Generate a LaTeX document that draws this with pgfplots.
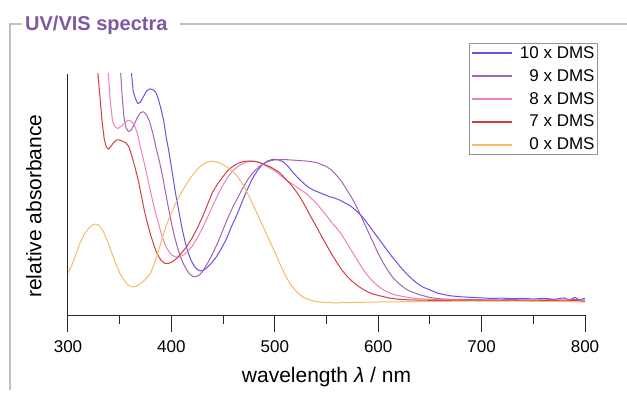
\documentclass[border=0pt]{standalone}
\usepackage{fontspec}
\setmainfont{Liberation Sans}
\usepackage{pgfplots}
\pgfplotsset{compat=1.18}
\definecolor{c10}{RGB}{110,80,225}
\definecolor{c9}{RGB}{163,100,183}
\definecolor{c8}{RGB}{236,130,185}
\definecolor{c7}{RGB}{205,65,65}
\definecolor{c0}{RGB}{246,187,102}
\definecolor{titlec}{RGB}{125,90,160}
\definecolor{framec}{RGB}{192,192,192}
\definecolor{axc}{RGB}{40,40,40}
\begin{document}
\begin{tikzpicture}
\path[use as bounding box] (0,0) rectangle (627pt,397pt);
\draw[framec, line width=1.5pt] (10pt,7pt) -- (10pt,373pt) -- (22pt,373pt);
\draw[framec, line width=1.5pt] (180pt,373pt) -- (627pt,373pt);
\node[anchor=base west, inner sep=0pt, text=titlec, font=\fontsize{20}{20}\selectfont\bfseries] at (25pt,366.3pt) {UV/VIS spectra};
\begin{axis}[
  at={(68pt,82pt)}, anchor=south west,
  scale only axis, width=517pt, height=241pt,
  xmin=300, xmax=800, ymin=-0.1, ymax=1.6214,
  axis x line*=bottom, axis y line*=left,
  axis line style={-, axc, line width=1pt},
  xtick={300,400,...,800}, minor x tick num=1,
  ytick=\empty,
  tick align=outside,
  major tick length=17pt, minor tick length=9pt,
  every tick/.style={axc, line width=1pt},
  xticklabel style={font=\fontsize{17}{17}\selectfont, /pgf/number format/assume math mode=true, yshift=-5pt},
  xlabel={wavelength \textit{λ} / nm},
  ylabel={relative absorbance},
  xlabel style={font=\fontsize{21}{21}\selectfont, at={(axis description cs:0.5,-0.2573)}, anchor=center},
  ylabel style={font=\fontsize{21}{21}\selectfont, at={(axis description cs:-0.0658,0.452)}, anchor=center},
  legend style={at={(axis description cs:1.0251,1.1286)}, anchor=north east,
    draw={rgb,255:red,150;green,150;blue,150}, line width=0.8pt, fill=white,
    font=\fontsize{17}{17}\selectfont,
    inner xsep=2pt, inner ysep=2pt, row sep=7.5pt,
    /tikz/every odd column/.append style={column sep=6pt},
    nodes={inner sep=1pt}},
  legend cell align=right,
  legend image code/.code={\draw[#1, line width=2pt] (0pt,0pt) -- (40pt,0pt);},
  every axis plot/.append style={line width=1pt, line join=round},
]
\addplot[c10] coordinates {
(300,4) (340,3) (355,2.3) (359,1.9) (361.5,1.62) (363,1.50) (365,1.45) (367.5,1.41)
(370,1.42) (373,1.46) (376,1.50) (379,1.515) (382,1.51) (385,1.49) (387.5,1.44)
(390,1.37) (392.5,1.29) (395,1.17) (398,1.05) (401,0.91) (404,0.77) (407,0.65)
(410,0.53) (413,0.43) (416,0.35) (419,0.29) (422,0.25) (425,0.225) (428,0.215)
(431,0.22) (434,0.235) (438,0.265) (443,0.31) (448,0.37) (453,0.44) (458,0.53)
(463,0.61) (468,0.70) (473,0.79) (478,0.87) (483,0.93) (488,0.975) (493,1.0)
(498,1.012) (503,1.01) (508,0.995) (513,0.96) (518,0.915) (523,0.875) (528,0.84)
(533,0.81) (538,0.79) (543,0.775) (548,0.76) (553,0.745) (558,0.735) (563,0.72)
(568,0.70) (573,0.68) (578,0.65) (583,0.615) (588,0.57) (593,0.52) (598,0.47)
(603,0.42) (608,0.37) (613,0.32) (618,0.275) (623,0.23) (628,0.19) (633,0.155)
(638,0.125) (643,0.10) (648,0.085) (653,0.07) (658,0.055) (663,0.047) (670,0.037)
(680,0.03) (690,0.026) (700,0.022) (710,0.018) (720,0.021) (730,0.016) (740,0.019)
(750,0.014) (760,0.02) (770,0.012) (780,0.022) (785,0.006) (790,0.026) (795,0.008) (800,0.02)
};
\addlegendentry{10 x DMS}
\addplot[c9] coordinates {
(300,4) (330,3) (345,2.2) (349,1.8) (351,1.62) (352.5,1.45) (354,1.32) (356,1.24)
(358.5,1.21) (361,1.22) (364,1.26) (367,1.31) (370,1.345) (373,1.352) (376,1.33)
(379,1.28) (382,1.20) (385,1.10) (388,1.01) (391,0.91) (394,0.79) (397,0.67)
(400,0.56) (403,0.46) (406,0.38) (409,0.31) (412,0.26) (415,0.22) (418,0.19)
(421,0.175) (424,0.175) (427,0.185) (430,0.21) (435,0.27) (440,0.34) (445,0.42)
(450,0.51) (455,0.60) (460,0.68) (465,0.75) (470,0.82) (475,0.88) (480,0.925)
(485,0.96) (490,0.985) (495,1.0) (500,1.008) (510,1.01) (520,1.005) (530,1.0)
(540,0.99) (545,0.975) (550,0.96) (555,0.935) (560,0.895) (565,0.85) (570,0.79)
(575,0.73) (580,0.66) (585,0.58) (590,0.50) (595,0.42) (600,0.34) (605,0.27)
(610,0.21) (615,0.16) (620,0.125) (625,0.095) (630,0.072) (640,0.045) (650,0.025)
(660,0.015) (670,0.012) (690,0.01) (710,0.008) (730,0.01) (750,0.006) (770,0.01)
(780,0.004) (790,0.012) (800,0.005)
};
\addlegendentry{9 x DMS}
\addplot[c8] coordinates {
(300,4) (320,3) (332,2.2) (337,1.8) (339,1.62) (341,1.42) (343,1.29) (345,1.25)
(348,1.232) (352,1.25) (355,1.275) (358,1.29) (361,1.285) (364,1.26) (367,1.20)
(370,1.10) (373,1.01) (376,0.91) (379,0.81) (382,0.71) (385,0.62) (388,0.54)
(391,0.46) (394,0.40) (397,0.36) (400,0.33) (404,0.315) (408,0.315) (412,0.33)
(416,0.355) (420,0.39) (425,0.45) (430,0.52) (435,0.60) (440,0.68) (445,0.76)
(450,0.83) (455,0.89) (460,0.935) (465,0.965) (470,0.985) (475,0.997) (480,1.0)
(485,0.99) (490,0.97) (495,0.95) (500,0.93) (505,0.90) (510,0.87) (515,0.845)
(520,0.82) (525,0.795) (530,0.77) (535,0.735) (540,0.70) (545,0.655) (550,0.61)
(555,0.56) (560,0.52) (565,0.47) (570,0.41) (575,0.35) (580,0.29) (585,0.23)
(590,0.18) (595,0.14) (600,0.105) (605,0.08) (610,0.06) (615,0.047) (620,0.038)
(630,0.024) (640,0.016) (650,0.012) (670,0.008) (690,0.006) (710,0.007) (730,0.004)
(750,0.006) (770,0.002) (780,0.008) (790,0.0) (800,0.006)
};
\addlegendentry{8 x DMS}
\addplot[c7] coordinates {
(300,3.5) (315,2.8) (322,2.2) (326,1.9) (329,1.62) (331,1.45) (333,1.28) (335,1.16)
(337,1.10) (339,1.085) (341,1.10) (344,1.13) (347,1.15) (350,1.15) (353,1.14)
(356,1.13) (359,1.10) (362,1.03) (365,0.95) (368,0.86) (371,0.75) (374,0.64)
(377,0.55) (380,0.47) (383,0.40) (386,0.34) (390,0.29) (394,0.268) (398,0.27)
(402,0.285) (406,0.31) (410,0.345) (415,0.39) (420,0.45) (425,0.52) (430,0.60)
(435,0.69) (440,0.78) (445,0.84) (450,0.89) (455,0.935) (460,0.965) (465,0.985)
(470,0.997) (475,1.0) (480,0.997) (485,0.99) (490,0.975) (495,0.96) (500,0.94)
(505,0.915) (510,0.875) (515,0.835) (520,0.79) (525,0.735) (530,0.67) (535,0.60)
(540,0.535) (545,0.465) (550,0.40) (555,0.335) (560,0.275) (565,0.22) (570,0.175)
(575,0.14) (580,0.11) (585,0.085) (590,0.065) (595,0.05) (600,0.04) (610,0.022)
(620,0.012) (630,0.008) (650,0.005) (670,0.004) (690,0.005) (710,0.002) (730,0.004)
(750,0.001) (770,0.004) (780,-0.002) (790,0.005) (800,-0.004)
};
\addlegendentry{7 x DMS}
\addplot[c0] coordinates {
(300,0.20) (304,0.26) (308,0.34) (312,0.42) (316,0.48) (320,0.52) (324,0.545)
(327,0.55) (330,0.54) (334,0.50) (338,0.43) (342,0.35) (346,0.27) (350,0.20)
(354,0.15) (358,0.115) (362,0.10) (366,0.105) (370,0.125) (375,0.155) (380,0.20)
(385,0.30) (390,0.42) (395,0.54) (400,0.63) (405,0.71) (410,0.78) (415,0.84)
(420,0.895) (425,0.94) (430,0.975) (435,0.993) (440,1.0) (445,0.99) (450,0.975)
(455,0.95) (460,0.92) (465,0.88) (470,0.82) (475,0.75) (480,0.67) (485,0.59)
(490,0.51) (495,0.43) (500,0.35) (505,0.265) (510,0.185) (515,0.12) (520,0.075)
(525,0.04) (530,0.018) (535,0.005) (540,-0.004) (550,-0.012) (560,-0.013)
(580,-0.01) (600,-0.007) (650,-0.003) (700,0.0) (750,-0.002) (780,-0.004) (800,-0.008)
};
\addlegendentry{0 x DMS}
\end{axis}
\end{tikzpicture}
\end{document}
